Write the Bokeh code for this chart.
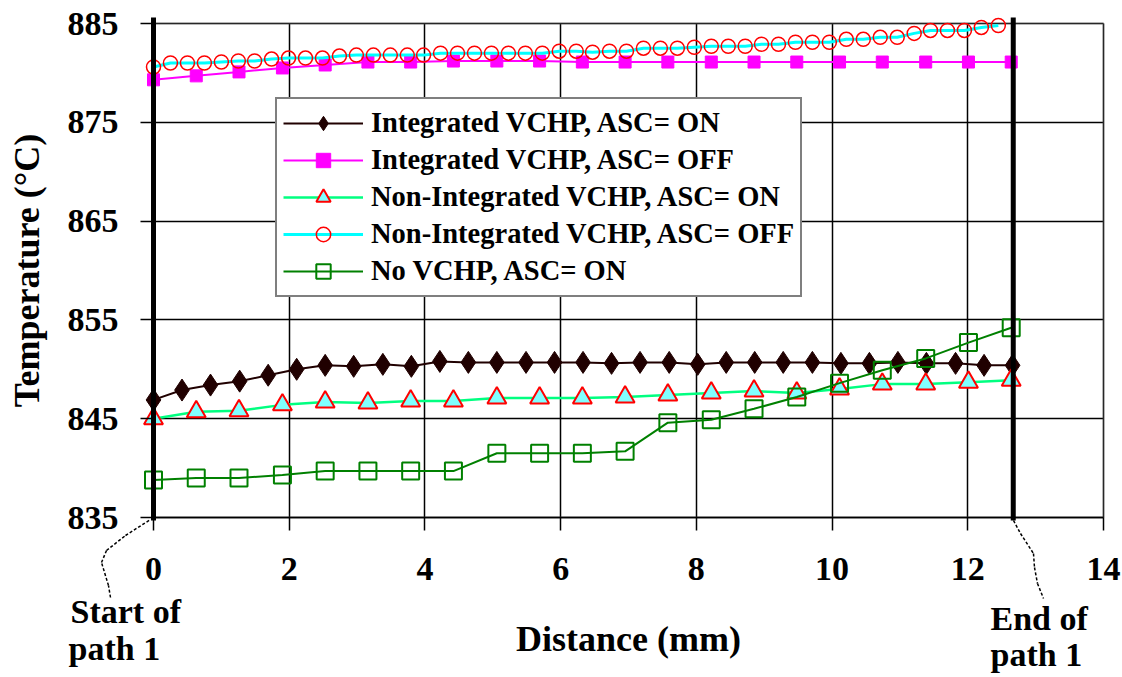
from bokeh.plotting import figure
from bokeh.models import Legend, LegendItem, Label, Arrow, ColumnDataSource, BoxAnnotation
from bokeh.embed import file_html
from bokeh.resources import INLINE

# ---------------- data ----------------
# Integrated VCHP, ASC=ON (31 points)
x_int_on = [0.00, 0.42, 0.84, 1.27, 1.69, 2.11, 2.53, 2.95, 3.38, 3.80, 4.22,
            4.64, 5.06, 5.49, 5.91, 6.33, 6.75, 7.17, 7.60, 8.02, 8.44, 8.86,
            9.28, 9.71, 10.13, 10.55, 10.97, 11.39, 11.82, 12.24, 12.66]
t_int_on = [846.9, 847.9, 848.4, 848.8, 849.4, 850.0, 850.4, 850.3, 850.5, 850.3, 850.8,
            850.7, 850.7, 850.7, 850.7, 850.7, 850.6, 850.7, 850.7, 850.5, 850.7, 850.7,
            850.7, 850.7, 850.6, 850.6, 850.7, 850.6, 850.6, 850.4, 850.4]

# common x for the 21-point series
x_coarse = [0.00, 0.63, 1.26, 1.90, 2.53, 3.16, 3.79, 4.42, 5.06, 5.69, 6.32,
            6.95, 7.58, 8.22, 8.85, 9.48, 10.11, 10.74, 11.38, 12.01, 12.64]
# Integrated VCHP, ASC=OFF
t_int_off = [879.3, 879.7, 880.1, 880.5, 880.8, 881.1, 881.1, 881.2, 881.2, 881.2, 881.1,
             881.1, 881.1, 881.1, 881.1, 881.1, 881.1, 881.1, 881.1, 881.1, 881.1]
# Non-Integrated VCHP, ASC=ON
t_non_on = [845.0, 845.7, 845.8, 846.4, 846.7, 846.6, 846.8, 846.8, 847.1, 847.1, 847.1,
            847.2, 847.4, 847.6, 847.8, 847.6, 848.0, 848.5, 848.5, 848.7, 848.9]
# No VCHP, ASC=ON
t_no_vchp = [838.8, 839.0, 839.0, 839.3, 839.7, 839.7, 839.7, 839.7, 841.5, 841.5, 841.5,
             841.7, 844.6, 844.9, 846.0, 847.2, 848.6, 849.9, 851.1, 852.7, 854.2]

# Non-Integrated VCHP, ASC=OFF (51 points)
x_non_off = [0.00, 0.25, 0.50, 0.75, 1.00, 1.25, 1.49, 1.74, 1.99, 2.24, 2.49,
             2.74, 2.99, 3.24, 3.49, 3.74, 3.98, 4.23, 4.48, 4.73, 4.98,
             5.23, 5.48, 5.73, 5.98, 6.23, 6.47, 6.72, 6.97, 7.22, 7.47,
             7.72, 7.97, 8.22, 8.47, 8.72, 8.96, 9.21, 9.46, 9.71, 9.96,
             10.21, 10.46, 10.71, 10.96, 11.21, 11.45, 11.70, 11.95, 12.20, 12.45]
t_non_off = [880.6, 881.0, 881.0, 881.0, 881.1, 881.2, 881.2, 881.4, 881.5, 881.5, 881.5,
             881.7, 881.8, 881.8, 881.8, 881.8, 881.8, 882.0, 882.0, 882.0, 882.0,
             882.0, 882.0, 882.0, 882.2, 882.2, 882.1, 882.2, 882.2, 882.5, 882.5,
             882.5, 882.6, 882.7, 882.7, 882.7, 882.9, 882.9, 883.1, 883.1, 883.1,
             883.4, 883.4, 883.6, 883.6, 884.0, 884.3, 884.3, 884.3, 884.6, 884.8]

path_marks = [0.0, 12.67]
x_ticks = [0, 2, 4, 6, 8, 10, 12, 14]
y_ticks = [835, 845, 855, 865, 875, 885]
X_MIN, X_MAX = 0, 14
Y_MIN, Y_MAX = 835, 885

labels = ["Integrated VCHP, ASC= ON", "Integrated VCHP, ASC= OFF",
          "Non-Integrated VCHP, ASC= ON", "Non-Integrated VCHP, ASC= OFF",
          "No VCHP, ASC= ON"]

FONT = "Liberation Serif"
W, H = 1122, 677
# plot-area placement (pixels) -> ranges so the whole canvas is the frame
PL, PR, PT, PB = 153, 1103, 23, 517
kx = (PR - PL) / (X_MAX - X_MIN)
ky = (PB - PT) / (Y_MAX - Y_MIN)
xr = (X_MIN - PL / kx, X_MAX + (W - PR) / kx)
yr = (Y_MIN - (H - PB) / ky, Y_MAX + PT / ky)

p = figure(width=W, height=H, x_range=xr, y_range=yr,
           output_backend="svg", toolbar_location=None,
           min_border_left=0, min_border_right=0, min_border_top=0, min_border_bottom=0)
p.background_fill_color = "white"
p.border_fill_color = "white"
p.outline_line_color = None

# grid (limited to the plotting box)
p.xgrid.ticker = x_ticks
p.ygrid.ticker = y_ticks
p.xgrid.bounds = (2, 12)
p.ygrid.bounds = (Y_MIN, 875)
p.xgrid.cross_bounds = (Y_MIN, Y_MAX)
p.ygrid.cross_bounds = (X_MIN, X_MAX)
for g in (p.xgrid, p.ygrid):
    g.grid_line_color = "black"
    g.grid_line_width = 1.5

# box border (top / right)
p.add_layout(BoxAnnotation(left=X_MIN, right=X_MAX, bottom=Y_MIN, top=Y_MAX,
                           fill_alpha=0, fill_color=None,
                           line_color="#808080", line_width=2, level="underlay"))

# axes drawn at the box edges
p.xaxis.fixed_location = Y_MIN
p.yaxis.fixed_location = X_MIN
p.xaxis.bounds = (X_MIN, X_MAX)
p.yaxis.bounds = (Y_MIN, Y_MAX)
p.xaxis.ticker = x_ticks
p.yaxis.ticker = y_ticks
for ax in (p.xaxis, p.yaxis):
    ax.axis_line_color = "black"
    ax.axis_line_width = 1.5
    ax.major_tick_line_color = "black"
    ax.major_tick_line_width = 1.5
    ax.major_tick_out = 13
    ax.major_tick_in = 0
    ax.minor_tick_line_color = None
    ax.major_label_text_font = FONT
    ax.major_label_text_font_style = "bold"
    ax.major_label_text_font_size = "34px"
    ax.major_label_text_color = "black"
    ax.axis_label_text_font = FONT
    ax.axis_label_text_font_style = "bold"
    ax.axis_label_text_font_size = "36px"
    ax.axis_label_text_color = "black"
p.xaxis.axis_label = "Distance (mm)"
p.yaxis.axis_label = "Temperature (\u00b0C)"
p.xaxis.major_label_standoff = 27
p.yaxis.major_label_standoff = 22
p.xaxis.axis_label_standoff = 36
p.yaxis.axis_label_standoff = 18

# series
r1l = p.line(x_int_on, t_int_on, line_color="#200000", line_width=2)
r1m = p.scatter(x_int_on, t_int_on, marker="diamond", size=22,
                fill_color="#200000", line_color="#200000")
r2l = p.line(x_coarse, t_int_off, line_color="#FF00FF", line_width=2)
r2m = p.scatter(x_coarse, t_int_off, marker="square", size=12,
                fill_color="#FF00FF", line_color="#FF00FF")
r3l = p.line(x_coarse, t_non_on, line_color="#00FF80", line_width=2.5)
r3m = p.scatter(x_coarse, t_non_on, marker="triangle", size=19,
                fill_color="#80FFFF", line_color="#FF0000", line_width=2)
r4l = p.line(x_non_off, t_non_off, line_color="#00FFFF", line_width=3)
r4m = p.scatter(x_non_off, t_non_off, marker="circle", size=14,
                fill_color=None, line_color="#FF0000", line_width=1.5)
r5l = p.line(x_coarse, t_no_vchp, line_color="#008000", line_width=2)
r5m = p.scatter(x_coarse, t_no_vchp, marker="square", size=17,
                fill_color=None, line_color="#008000", line_width=2)

# path start / end thick lines
p.segment(x0=path_marks, y0=[834.7, 834.7], x1=path_marks, y1=[885.6, 885.6],
          line_color="black", line_width=5)

# legend
items = [LegendItem(label=labels[0], renderers=[r1l, r1m]),
         LegendItem(label=labels[1], renderers=[r2l, r2m]),
         LegendItem(label=labels[2], renderers=[r3l, r3m]),
         LegendItem(label=labels[3], renderers=[r4l, r4m]),
         LegendItem(label=labels[4], renderers=[r5l, r5m])]
legend = Legend(items=items, location=(275, H - 297))
legend.border_line_color = "black"
legend.border_line_width = 2
legend.background_fill_color = "white"
legend.background_fill_alpha = 1
legend.label_text_font = FONT
legend.label_text_font_style = "bold"
legend.label_text_font_size = "28.5px"
legend.label_text_color = "black"
legend.glyph_width = 80
legend.glyph_height = 36
legend.label_height = 30
legend.label_standoff = 8
legend.spacing = 1
legend.padding = 6
legend.margin = 0
p.add_layout(legend)

# annotations: start / end of path
for txt, sx, sy in [("Start of", 70, H - 611), ("path 1", 68, H - 648),
                    ("End of", 990, H - 618), ("path 1", 990, H - 654)]:
    p.add_layout(Label(x=sx, y=sy, x_units="screen", y_units="screen", text=txt,
                       text_font=FONT, text_font_style="bold", text_font_size="34px",
                       text_color="black", text_baseline="alphabetic", text_align="left"))

lead_left = [(110, 597), (108, 585), (101, 562), (106, 550), (125, 535), (150, 519)]
lead_right = [(1013, 520), (1020, 533), (1033, 553), (1034, 567), (1037, 583), (1043, 598)]
xs0, ys0, xs1, ys1 = [], [], [], []
for pts in (lead_left, lead_right):
    for a, b in zip(pts[:-1], pts[1:]):
        xs0.append(a[0]); ys0.append(H - a[1]); xs1.append(b[0]); ys1.append(H - b[1])
src = ColumnDataSource(dict(x0=xs0, y0=ys0, x1=xs1, y1=ys1))
p.add_layout(Arrow(end=None, source=src, x_start="x0", y_start="y0", x_end="x1", y_end="y1",
                   start_units="screen", end_units="screen",
                   line_color="black", line_width=1.5, line_dash="3 2"))

open("out.html", "w").write(file_html(p, INLINE))
